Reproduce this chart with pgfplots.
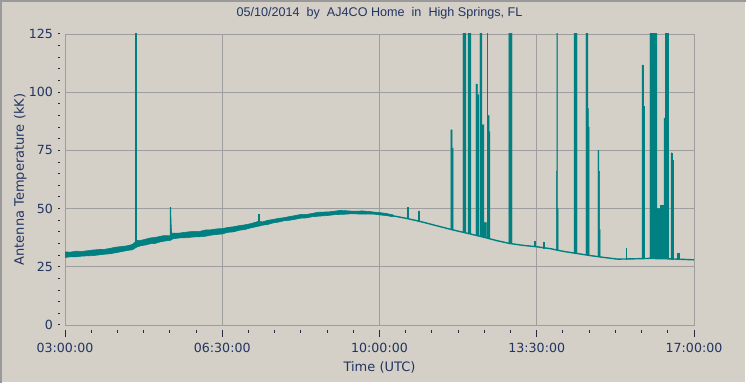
\documentclass[border=0pt]{standalone}
\usepackage{pgfplots}
\pgfplotsset{compat=1.18}
\usepackage{fontspec}
\setmainfont{DejaVu Sans}
\newfontfamily\titlefont{Liberation Sans}
\definecolor{bg}{RGB}{212,208,200}
\definecolor{tealc}{RGB}{0,128,128}
\definecolor{gridc}{RGB}{158,158,158}
\definecolor{txt}{RGB}{34,52,98}
\definecolor{tickc}{RGB}{40,40,60}
\begin{document}
\begin{tikzpicture}
\useasboundingbox (0,0) rectangle (746bp,383bp);
\fill[bg] (0,0) rectangle (746bp,383bp);
\draw[white, line width=1.5bp] (0,0.75bp) -- (745.25bp,0.75bp) -- (745.25bp,383bp);
\draw[gray!80, line width=2bp] (1bp,0) -- (1bp,382bp) -- (746bp,382bp);
\begin{axis}[
  at={(65bp,58bp)}, anchor=south west,
  scale only axis, width=629bp, height=291bp,
  xmin=3, xmax=17, ymin=0, ymax=125,
  xtick={3,6.5,10,13.5,17},
  xticklabels={03:00:00,06:30:00,10:00:00,13:30:00,17:00:00},
  ytick={0,25,50,75,100,125},
  grid=major,
  major grid style={gridc, line width=0.9bp},
  axis line style={gridc, line width=0.9bp},
  major tick length=0pt, minor tick length=0pt,
  tick style={draw=none},
  /pgf/number format/assume math mode=true,
  ticklabel style={font=\fontsize{12.6bp}{15bp}\selectfont, text=txt, inner sep=0pt},
  xticklabel style={anchor=base},
  xticklabel shift=28bp,
  yticklabel style={anchor=east},
  yticklabel shift=12bp,
  title={\titlefont 05/10/2014\ \ by\ \ AJ4CO Home\ \ in\ \ High Springs, FL},
  title style={at={(axis description cs:0.5,1.0388)}, anchor=base, text=txt, inner sep=0pt, font=\fontsize{12.6bp}{15bp}\selectfont},
  xlabel={Time (UTC)},
  xlabel style={at={(axis description cs:0.5,-0.1598)}, anchor=base, text=txt, inner sep=0pt, font=\fontsize{13bp}{15bp}\selectfont},
  ylabel={Antenna Temperature (kK)},
  ylabel style={at={(axis description cs:-0.0652,0.5)}, anchor=base, rotate=0, text=txt, inner sep=0pt, font=\fontsize{13bp}{15bp}\selectfont},
  spk/.style={fill=tealc, draw=tealc, line width=0.4bp, mark=none},
]
% noisy band 03:00 - 10:18 (upper envelope, then lower envelope)
\addplot[fill=tealc, draw=tealc, line width=0.6bp, mark=none] coordinates {
(3.00,31.4)(3.12,31.3)(3.25,31.7)(3.38,31.6)(3.5,31.9)(3.62,32.2)(3.75,32.4)(3.88,32.5)(4.0,32.9)(4.12,33.4)(4.25,33.7)(4.38,34.0)(4.5,34.6)(4.6,36.3)(4.7,36.4)(4.8,36.9)(4.9,37.4)(5.0,37.6)(5.1,38.0)(5.2,38.4)(5.35,38.3)(5.4,39.4)(5.55,39.5)(5.7,39.9)(5.85,40.2)(6.0,40.2)(6.12,40.8)(6.25,40.9)(6.38,41.3)(6.5,41.4)(6.62,41.9)(6.75,42.2)(6.88,42.7)(7.0,43.0)(7.15,43.6)(7.3,44.5)(7.4,44.3)(7.5,44.9)(7.62,45.3)(7.75,45.8)(7.88,46.1)(8.0,46.6)(8.12,47.0)(8.25,47.5)(8.38,47.5)(8.5,47.9)(8.62,48.4)(8.75,48.5)(8.88,48.6)(9.0,48.9)(9.12,49.2)(9.25,49.1)(9.38,48.9)(9.5,48.9)(9.62,49.0)(9.75,48.8)(9.88,48.5)(10.0,48.3)(10.15,47.9)(10.3,47.3)
(10.3,46.5)(10.15,47.0)(10.0,47.3)(9.88,47.6)(9.75,47.7)(9.62,47.6)(9.5,47.7)(9.38,47.8)(9.25,47.6)(9.12,47.5)(9.0,47.4)(8.88,47.1)(8.75,46.9)(8.62,46.7)(8.5,46.5)(8.38,46.0)(8.25,45.9)(8.12,45.4)(8.0,45.0)(7.88,44.8)(7.75,44.2)(7.62,43.8)(7.5,43.1)(7.4,42.9)(7.3,42.4)(7.15,41.8)(7.0,41.0)(6.88,40.7)(6.75,40.0)(6.62,39.8)(6.5,39.1)(6.38,38.9)(6.25,38.6)(6.12,38.1)(6.0,37.9)(5.85,37.8)(5.7,37.5)(5.55,37.4)(5.4,37.0)(5.35,36.4)(5.2,36.0)(5.1,35.6)(5.0,35.0)(4.9,34.9)(4.8,34.4)(4.7,34.1)(4.6,33.5)(4.5,32.3)(4.38,32.0)(4.25,31.5)(4.12,31.0)(4.0,30.6)(3.88,30.4)(3.75,30.1)(3.62,29.8)(3.5,29.7)(3.38,29.6)(3.25,29.3)(3.12,29.3)(3.0,29.0)
} --cycle;
% quieter baseline 10:18 - 17:00
\addplot[tealc, line width=1.4bp, mark=none] coordinates {
(10.3,46.9)(10.6,45.8)(10.9,44.5)(11.2,43.0)(11.6,41.0)(12.0,39.2)(12.3,37.8)(12.6,36.3)(12.9,35.0)(13.2,34.2)(13.5,33.6)(13.8,32.8)(14.1,31.6)(14.4,30.7)(14.7,29.8)(15.0,29.0)(15.3,28.3)(15.6,28.4)(16.0,28.6)(16.5,28.4)(17.0,28.0)
};
% spikes
\addplot[spk] coordinates {(4.553,34)(4.553,200)(4.575,200)(4.575,34)} --cycle;
\addplot[spk] coordinates {(5.34,37.5)(5.34,50.5)(5.356,50.5)(5.362,44)(5.375,40.5)(5.385,38)} --cycle;
\addplot[spk] coordinates {(7.31,43.5)(7.31,47.5)(7.33,47.5)(7.33,43.5)} --cycle;
\addplot[spk] coordinates {(10.625,45.8)(10.625,50.7)(10.64,50.7)(10.64,45.8)} --cycle;
\addplot[spk] coordinates {(10.87,44.7)(10.87,49)(10.885,49)(10.885,44.7)} --cycle;
\addplot[spk] coordinates {(11.59,41)(11.59,83.8)(11.615,83.8)(11.615,76)(11.64,76)(11.64,40.8)} --cycle;
\addplot[spk] coordinates {(11.858,40)(11.858,200)(11.925,200)(11.925,39.8)} --cycle;
\addplot[spk] coordinates {(11.97,39.5)(11.97,200)(12.036,200)(12.036,39.2)} --cycle;
\addplot[spk] coordinates {(12.147,38.7)(12.147,103.5)(12.18,103.5)(12.18,99)(12.214,99)(12.214,38.4)} --cycle;
\addplot[spk] coordinates {(12.236,38.2)(12.236,200)(12.281,200)(12.281,86)(12.325,86)(12.325,37.8)} --cycle;
\addplot[spk] coordinates {(12.33,37.7)(12.33,44)(12.38,44)(12.38,37.6)} --cycle;
\addplot[spk] coordinates {(12.388,37.5)(12.388,200)(12.4,200)(12.4,37.5)} --cycle;
\addplot[spk] coordinates {(12.414,37.4)(12.414,90)(12.44,90)(12.44,83)(12.459,83)(12.459,37.2)} --cycle;
\addplot[spk] coordinates {(12.88,35.1)(12.88,200)(12.95,200)(12.95,34.9)} --cycle;
\addplot[spk] coordinates {(13.44,33.7)(13.44,36)(13.455,36)(13.455,33.7)} --cycle;
\addplot[spk] coordinates {(13.64,33.2)(13.64,35.5)(13.655,35.5)(13.655,33.2)} --cycle;
\addplot[spk] coordinates {(13.935,32.2)(13.935,66)(13.947,66)(13.947,200)(13.96,200)(13.96,50)(13.975,50)(13.975,32.1)} --cycle;
\addplot[spk] coordinates {(14.33,31)(14.33,200)(14.396,200)(14.396,30.8)} --cycle;
\addplot[spk] coordinates {(14.595,30.2)(14.595,200)(14.64,200)(14.64,93)(14.65,93)(14.65,85)(14.665,85)(14.665,30)} --cycle;
\addplot[spk] coordinates {(14.863,29.6)(14.863,75)(14.885,75)(14.885,66)(14.9,66)(14.9,41)(14.91,41)(14.91,29.5)} --cycle;
\addplot[spk] coordinates {(15.48,28.4)(15.48,33)(15.495,33)(15.495,28.4)} --cycle;
\addplot[spk] coordinates {(15.842,28.6)(15.842,111.7)(15.865,111.7)(15.865,94)(15.887,94)(15.887,28.6)} --cycle;
\addplot[spk] coordinates {(16.02,28.6)(16.02,200)(16.176,200)(16.176,50)(16.243,50)(16.243,28.5)} --cycle;
\addplot[spk] coordinates {(16.254,28.5)(16.254,51.5)(16.31,51.5)(16.31,28.5)} --cycle;
\addplot[spk] coordinates {(16.33,28.5)(16.33,89)(16.36,89)(16.36,200)(16.42,200)(16.42,28.5)} --cycle;
\addplot[spk] coordinates {(16.487,28.4)(16.487,74)(16.51,74)(16.51,71)(16.532,71)(16.532,28.4)} --cycle;
\addplot[spk] coordinates {(16.62,28.3)(16.62,31)(16.665,31)(16.665,28.3)} --cycle;
\end{axis}
% detached tick marks (axis decoration)
\foreach \x in {65,222.25,379.5,536.75,694}
  \draw[tickc, line width=1bp] (\x bp,53bp) -- (\x bp,46bp);
\foreach \k in {1,...,23}
  \draw[tickc, line width=1bp] (65bp+\k*26.2083bp,53bp) -- ++(0,-3bp);
\foreach \k in {0,...,25}
  \draw[tickc, line width=1bp] (57.5bp,58bp+\k*11.64bp) -- ++(2.5bp,0);
\end{tikzpicture}
\end{document}
